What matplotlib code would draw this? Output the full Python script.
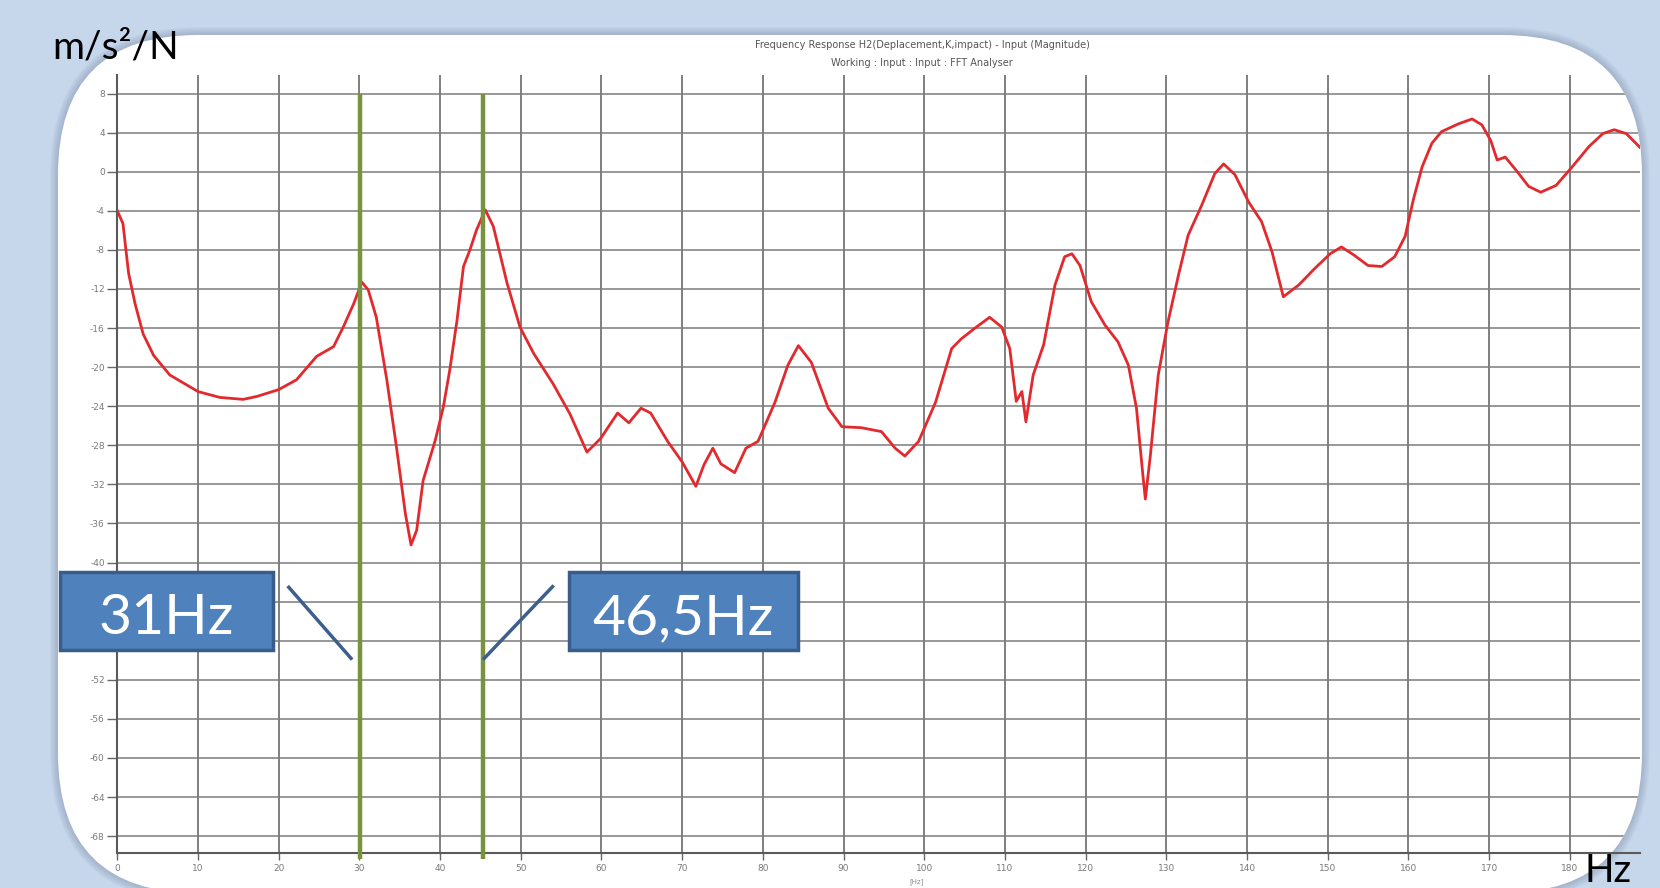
import matplotlib
matplotlib.use('Agg')
import numpy as np
import matplotlib.pyplot as plt
from matplotlib.patches import FancyBboxPatch, Rectangle
from matplotlib.transforms import IdentityTransform
from matplotlib.lines import Line2D

# frequency response (Hz, magnitude)
freq_hz = [0, 0.7, 1.4, 2.2, 3.2, 4.5, 6.5, 10.0, 12.7, 15.6,
           17.3, 20.0, 22.2, 24.7, 26.8, 28.0, 29.3, 30.3, 31.1, 32.1,
           33.4, 34.6, 35.7, 36.4, 37.1, 37.9, 39.4, 40.4, 41.2, 42.1,
           42.9, 43.7, 44.5, 45.6, 46.6, 48.3, 49.9, 51.6, 54.0, 56.1,
           58.2, 59.9, 62.0, 63.4, 64.9, 66.1, 68.2, 70.0, 71.7, 72.7,
           73.8, 74.8, 76.5, 77.9, 79.4, 81.5, 83.1, 84.4, 86.0, 88.1,
           89.8, 92.2, 94.7, 96.4, 97.6, 99.3, 101.4,
           103.4, 104.6, 106.3, 108.1, 109.6, 110.6, 111.4, 112.1, 112.6, 113.5,
           114.8, 116.2, 117.4, 118.3, 119.3, 120.7, 122.4, 124.0, 125.3, 126.3,
           127.1, 127.4, 128.0, 129.0, 130.2, 131.5, 132.7, 134.4, 136.0, 137.1,
           138.5, 140.2, 141.8, 143.1, 144.5, 146.4, 148.4, 150.3, 151.7,
           153.2, 155.0, 156.7, 158.3, 159.6, 160.6, 161.7, 162.9, 164.1, 166.2,
           167.9, 169.1, 170.2, 171.0, 172.0, 173.3, 174.9, 176.4, 178.3, 180.3,
           182.4, 184.1, 185.5, 187.0, 188.8]
magnitude = [-4.0, -5.3, -10.4, -13.5, -16.6, -18.8, -20.8, -22.5, -23.1, -23.3,
             -23.0, -22.3, -21.3, -18.9, -17.9, -15.9, -13.5, -11.3, -12.1, -14.9,
             -21.3, -28.2, -35.0, -38.2, -36.7, -31.6, -27.5, -24.1, -20.3, -15.2,
             -9.7, -8.0, -6.0, -3.9, -5.6, -11.4, -15.9, -18.6, -21.7, -24.8,
             -28.7, -27.3, -24.7, -25.7, -24.2, -24.7, -27.6, -29.7, -32.2, -30.0,
             -28.3, -29.9, -30.8, -28.3, -27.6, -23.6, -19.8, -17.8, -19.5, -24.2,
             -26.1, -26.2, -26.6, -28.3, -29.1, -27.6, -23.6,
             -18.1, -17.1, -16.0, -14.9, -15.9, -18.1, -23.5, -22.5, -25.6, -20.8,
             -17.7, -11.6, -8.7, -8.4, -9.6, -13.3, -15.7, -17.4, -19.8, -24.2,
             -31.1, -33.5, -29.2, -20.8, -15.4, -10.6, -6.5, -3.4, -0.2, 0.8,
             -0.3, -3.1, -5.1, -8.2, -12.8, -11.6, -9.9, -8.4, -7.7,
             -8.5, -9.6, -9.7, -8.7, -6.6, -2.9, 0.5, 2.9, 4.1, 4.9,
             5.4, 4.8, 3.2, 1.2, 1.5, 0.2, -1.5, -2.1, -1.4, 0.5,
             2.6, 3.9, 4.3, 3.9, 2.4]

marker_hz = [30.1, 45.35]
marker_labels = ['31Hz', '46,5Hz']
x_ticks = list(range(0, 190, 10))
y_ticks = list(range(-68, 9, 4))
hidden_y = [-44, -48]  # covered by the 31Hz callout in the slide

W, H = 1660, 888
fig = plt.figure(figsize=(W / 100, H / 100), dpi=100)
fig.patch.set_facecolor('#c6d6eb')


def fx(x):
    return x / W


def fy(y):
    return 1 - y / H


# soft shadow + white rounded panel (display pixels)
left, top, right, bottom = 58, 35, 1642, 893
for k in range(8, 0, -1):
    sh = FancyBboxPatch((left - k, H - bottom - k), right - left + 2 * k, bottom - top + 2 * k,
                        boxstyle='round,pad=0,rounding_size=%d' % (140 + k),
                        transform=IdentityTransform(), fc='#6f7f99', ec='none',
                        alpha=0.05, zorder=-3)
    fig.add_artist(sh)
panel = FancyBboxPatch((left, H - bottom), right - left, bottom - top,
                       boxstyle='round,pad=0,rounding_size=140',
                       transform=IdentityTransform(), fc='white', ec='none', zorder=-2)
fig.add_artist(panel)

ax = fig.add_axes([fx(117.3), fy(852.7), (1640 - 117.3) / W, (852.7 - 75) / H])
ax.set_facecolor('none')
ax.set_xlim(0, 188.7)
ax.set_ylim(-69.7, 9.9)
ax.set_xticks(x_ticks)
ax.set_yticks(y_ticks)
ax.set_yticklabels(['' if v in hidden_y else str(v) for v in y_ticks])
ax.xaxis.grid(True, color='#666666', lw=1.3, alpha=0.9)
ax.yaxis.grid(True, color='#7c7c7c', lw=1.3, alpha=0.85)
for s in ['top', 'right']:
    ax.spines[s].set_visible(False)
for s in ['left', 'bottom']:
    ax.spines[s].set_color('#5a5a5a')
    ax.spines[s].set_linewidth(1.5)
ax.tick_params(axis='y', direction='out', length=7, width=1, color='#666666',
               labelsize=6.5, labelcolor='#7a7a7a', pad=2)
ax.tick_params(axis='x', direction='out', length=5, width=1, color='#666666',
               labelsize=6.5, labelcolor='#7a7a7a', pad=3)

line, = ax.plot(freq_hz, magnitude, color='#e22a2e', lw=2.0, zorder=3)
vl = ax.vlines(marker_hz, -70.3, 8, color='#77933c', lw=3.2, zorder=4, clip_on=False)

for art in ax.xaxis.get_gridlines() + ax.yaxis.get_gridlines() + [line]:
    art.set_clip_path(panel)
for lab in ax.get_xticklabels():
    lab.set_clip_path(panel)

# chart titles from the analyser
fig.text(fx(922), fy(45), 'Frequency Response H2(Deplacement,K,impact) - Input (Magnitude)',
         fontsize=7, color='#555555', ha='center', va='center')
fig.text(fx(922), fy(63), 'Working : Input : Input : FFT Analyser',
         fontsize=7, color='#555555', ha='center', va='center')
fig.text(fx(917), fy(882), '[Hz]', fontsize=5, color='#888888', ha='center', va='center')

# axis unit labels
fig.text(fx(52), fy(58), 'm/s²/N', fontsize=28, family=['Lato', 'DejaVu Sans'],
         color='black', ha='left', va='baseline')
fig.text(fx(1584), fy(882), 'Hz', fontsize=28, family=['Lato', 'DejaVu Sans'],
         color='black', ha='left', va='baseline')

# callout boxes
boxes = [(60, 273), (569, 798)]
for (x0, x1), txt in zip(boxes, marker_labels):
    r = Rectangle((fx(x0), fy(650)), (x1 - x0) / W, 78 / H, transform=fig.transFigure,
                  fc='#4f81bd', ec='#385d8a', lw=2.5, zorder=5)
    fig.add_artist(r)
    fig.text(fx((x0 + x1) / 2), fy(634), txt, fontsize=41, family=['Lato', 'DejaVu Sans'],
             color='white', ha='center', va='baseline', zorder=6)

for (xa, ya), (xb, yb) in [((288.8, 587.3), (351, 658.3)), ((552.5, 586.7), (484.3, 658.3))]:
    fig.add_artist(Line2D([fx(xa), fx(xb)], [fy(ya), fy(yb)], transform=fig.transFigure,
                          color='#3d5f8c', lw=2.5, zorder=5))

fig.savefig('out.png', dpi=100, facecolor=fig.get_facecolor())
